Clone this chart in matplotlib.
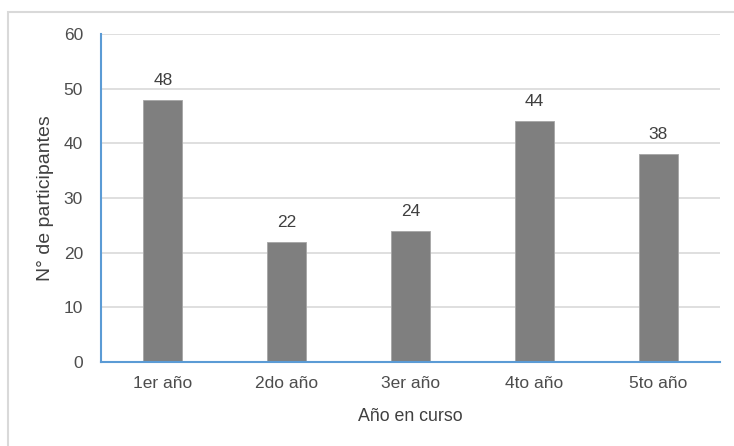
import matplotlib.pyplot as plt
from matplotlib.patches import Rectangle

categories = ['1er año', '2do año', '3er año', '4to año', '5to año']
participants = [48, 22, 24, 44, 38]
y_ticks = [0, 10, 20, 30, 40, 50, 60]

plt.rcParams['font.family'] = ['Liberation Sans', 'DejaVu Sans']

fig = plt.figure(figsize=(7.34, 4.46), dpi=100)

# light outer frame, cut off on the right and bottom
fig.patches.append(Rectangle((8 / 734, -0.2), 1.2, 1 - 12 / 446 + 0.2,
                             transform=fig.transFigure, fill=False,
                             edgecolor='#d9d9d9', linewidth=1.5))

ax = fig.add_axes([101 / 734, 1 - 362 / 446, 619 / 734, 328 / 446])
x = range(len(categories))
bars = ax.bar(x, participants, width=0.315, color='#7f7f7f',
              edgecolor='#a6a6a6', linewidth=0.6, zorder=3)

for xi, v in zip(x, participants):
    ax.text(xi, v + 2.2, str(v), ha='center', va='bottom',
            fontsize=12.5, color='#404040')

ax.set_xlim(-0.5, len(categories) - 0.5)
ax.set_ylim(0, 60)
ax.set_yticks(y_ticks)
ax.set_xticks(list(x))
ax.set_xticklabels(categories)
ax.grid(axis='y', color='#d9d9d9', linewidth=1.2, zorder=0)
ax.tick_params(axis='both', length=0, labelsize=12.5, colors='#4d4d4d')
ax.tick_params(axis='x', pad=10)
ax.tick_params(axis='y', pad=13)

for side in ['top', 'right']:
    ax.spines[side].set_visible(False)
for side in ['left', 'bottom']:
    ax.spines[side].set_color('#5b9bd5')
    ax.spines[side].set_linewidth(1.5)
    ax.spines[side].set_zorder(4)

ax.set_xlabel('Año en curso', fontsize=12.8, color='#404040', labelpad=12)
ax.set_ylabel('N° de participantes', fontsize=14, color='#404040', labelpad=7)

fig.savefig('out.png', dpi=100)
